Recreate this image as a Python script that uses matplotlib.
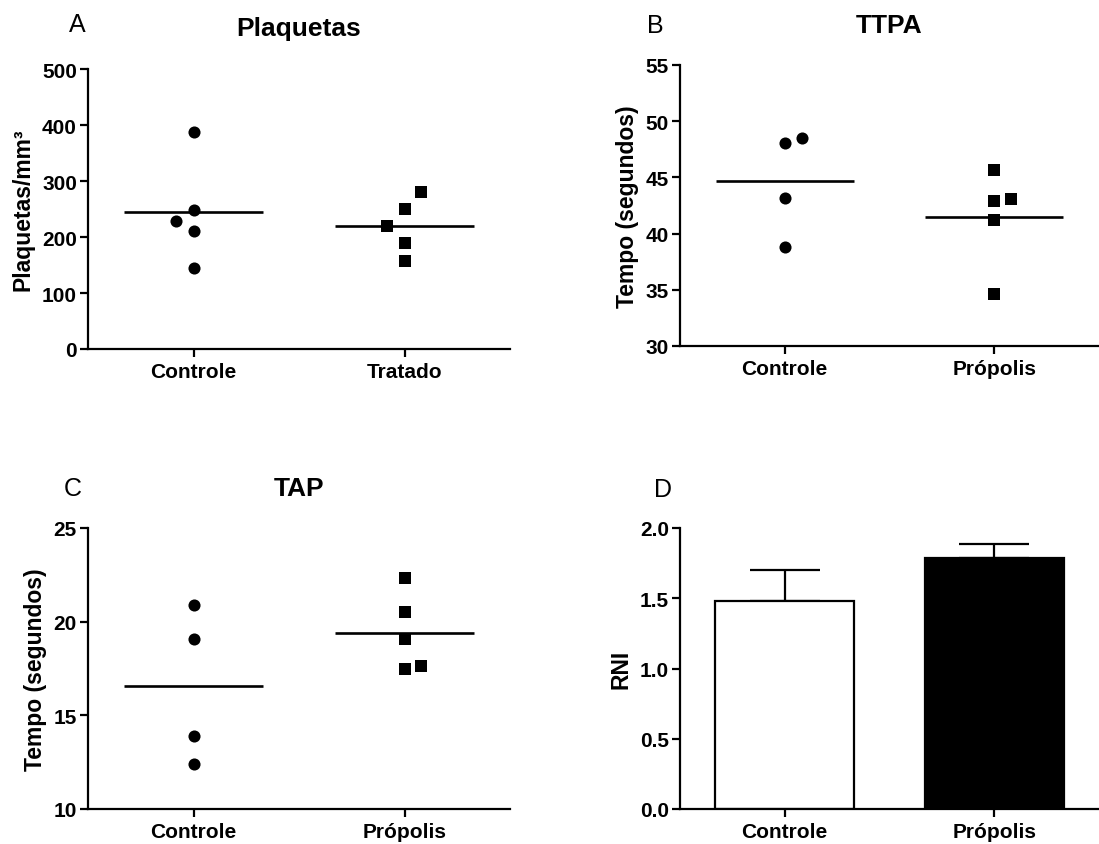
import matplotlib
matplotlib.use("Agg")
import matplotlib.pyplot as plt
import numpy as np

plt.rcParams['font.family'] = ['Liberation Sans', 'DejaVu Sans']

# ---------------- data ----------------
a_categories = ["Controle", "Tratado"]
a_controle = [388, 249, 229, 210, 144]
a_controle_dx = [0, 0, -0.082, 0, 0]
a_tratado = [281, 250, 219, 189, 158]
a_tratado_dx = [0.079, 0, -0.082, 0, 0]
a_yticks = [0, 100, 200, 300, 400, 500]

b_categories = ["Controle", "Própolis"]
b_controle = [48.1, 48.5, 43.2, 38.8]
b_controle_dx = [0, 0.08, 0, 0]
b_propolis = [45.66, 42.9, 43.05, 41.18, 34.6]
b_propolis_dx = [0, 0, 0.079, 0, 0]
b_yticks = [30, 35, 40, 45, 50, 55]

c_categories = ["Controle", "Própolis"]
c_controle = [20.89, 19.06, 13.88, 12.4]
c_controle_dx = [0, 0, 0, 0]
c_propolis = [22.31, 20.53, 19.07, 17.47, 17.65]
c_propolis_dx = [0, 0, 0, 0, 0.079]
c_yticks = [10, 15, 20, 25]

d_categories = ["Controle", "Própolis"]
d_means = [1.48, 1.787]
d_sem = [0.22, 0.102]
d_colors = ["white", "black"]
d_yticks = [0.0, 0.5, 1.0, 1.5, 2.0]

# ---------------- figure ----------------
W, H = 1099, 845
fig = plt.figure(figsize=(W / 100, H / 100), dpi=100)


def ax_at(left, top, right, bottom):
    return fig.add_axes([left / W, 1 - bottom / H, (right - left) / W, (bottom - top) / H])


LW = 1.6
TICK_FS = 15
LABEL_FS = 16.5
TITLE_FS = 19
PANEL_FS = 18


def style(ax, ylim, yticks, cats, ylabel, title=None, title_pad=24):
    for s in ("top", "right"):
        ax.spines[s].set_visible(False)
    for s in ("left", "bottom"):
        ax.spines[s].set_linewidth(LW)
    ax.set_xlim(-0.5, 1.5)
    ax.set_ylim(*ylim)
    ax.set_yticks(yticks)
    ax.set_xticks(range(len(cats)))
    ax.set_xticklabels(cats)
    ax.tick_params(direction="out", length=6, width=LW, labelsize=TICK_FS, pad=2.0)
    ax.tick_params(axis="x", pad=3.5)
    for lab in ax.get_xticklabels() + ax.get_yticklabels():
        lab.set_fontweight("bold")
    ax.set_ylabel(ylabel, fontsize=LABEL_FS, fontweight="bold", labelpad=5)
    if title:
        ax.set_title(title, fontsize=TITLE_FS, fontweight="bold", pad=title_pad)


def scatter_group(ax, xpos, values, dx, marker):
    xs = [xpos + d for d in dx]
    ax.plot(xs, values, linestyle="none", marker=marker, markersize=8.7,
            markerfacecolor="black", markeredgewidth=0, color="black",
            clip_on=False, zorder=3)
    m = float(np.mean(values))
    ax.plot([xpos - 0.33, xpos + 0.33], [m, m], color="black", lw=1.9,
            solid_capstyle="butt", zorder=2)


# Panel A
axA = ax_at(88, 70, 510, 350)
scatter_group(axA, 0, a_controle, a_controle_dx, "o")
scatter_group(axA, 1, a_tratado, a_tratado_dx, "s")
style(axA, (0, 500), a_yticks, a_categories, "Plaquetas/mm³", "Plaquetas", 24.5)

# Panel B
axB = ax_at(680, 66, 1099, 347)
scatter_group(axB, 0, b_controle, b_controle_dx, "o")
scatter_group(axB, 1, b_propolis, b_propolis_dx, "s")
style(axB, (30, 55), b_yticks, b_categories, "Tempo (segundos)", "TTPA", 23.5)

# Panel C
axC = ax_at(88, 529, 510, 810)
scatter_group(axC, 0, c_controle, c_controle_dx, "o")
scatter_group(axC, 1, c_propolis, c_propolis_dx, "s")
style(axC, (10, 25), c_yticks, c_categories, "Tempo (segundos)", "TAP", 24)

# Panel D
axD = ax_at(680, 529, 1099, 810)
xD = np.arange(len(d_categories))
axD.errorbar(xD, d_means, yerr=[np.zeros(len(d_sem)), d_sem], fmt="none",
             ecolor="black", elinewidth=LW, capsize=25, capthick=LW, zorder=1)
axD.bar(xD, d_means, width=0.665, color=d_colors, edgecolor="black",
        linewidth=LW, zorder=2)
style(axD, (0, 2.0), d_yticks, d_categories, "RNI")
axD.set_yticklabels([f"{v:.1f}" for v in d_yticks], fontweight="bold")

# Panel letters
for letter, x, y in [("A", 77, 32), ("B", 655, 33), ("C", 73, 496), ("D", 663, 497)]:
    fig.text(x / W, 1 - y / H, letter, fontsize=PANEL_FS, ha="center", va="baseline")

fig.savefig("out.png", dpi=100, facecolor="white")
